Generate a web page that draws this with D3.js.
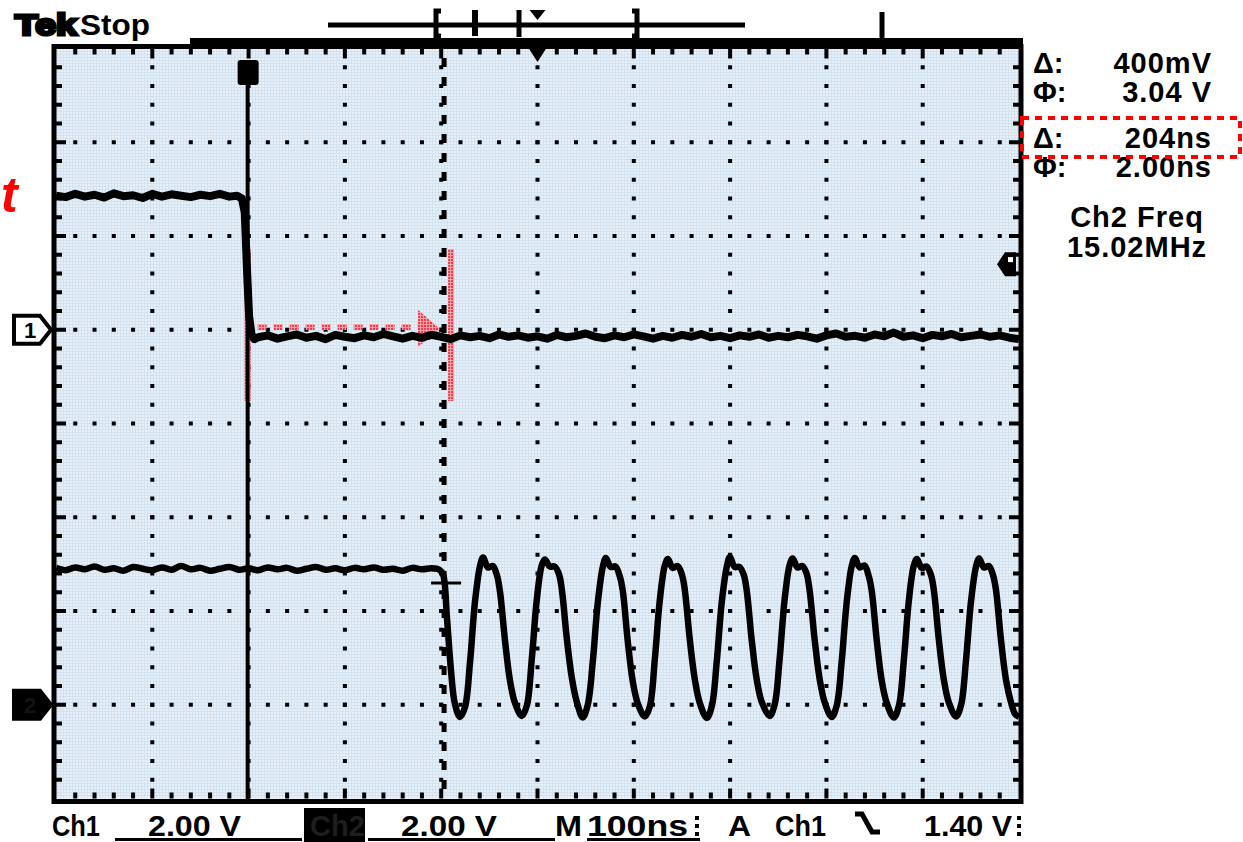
<!DOCTYPE html>
<meta charset="utf-8">
<style>
body { margin: 0; background: #fff; }
text { font-family: "Liberation Sans", Arial, sans-serif; font-weight: bold; }
</style>
<svg width="1243" height="842"></svg>
<script src="https://d3js.org/d3.v7.min.js"></script>
<script>

// ---- data (time in ns, 100 ns/div; volts, 2 V/div) ----
var timeRange = [0, 1000];
var voltsPerDiv = 2;
var ch1Offset = 1;    // divisions above centre
var ch2Offset = -3;   // divisions below centre
var cursorTimes = [199, 403];
var triggerLevel = 1.40;

var ch1Trace = [
  [0,2.86],[10,2.83],[20,2.9],[30,2.84],[40,2.88],[50,2.82],[60,2.91],[70,2.85],[80,2.87],[90,2.81],
  [100,2.9],[110,2.84],[120,2.89],[130,2.86],[140,2.83],[150,2.88],[160,2.85],[170,2.9],[180,2.84],[188,2.86],
  [193,2.8],[196,2.5],[198.5,1.2],[200.5,0.3],[203,-0.1],[206,-0.2],
  [210,-0.16],[220,-0.12],[230,-0.19],[240,-0.14],[250,-0.1],[260,-0.17],[270,-0.13],[280,-0.2],[290,-0.11],[300,-0.15],
  [310,-0.18],[320,-0.12],[330,-0.16],[340,-0.09],[350,-0.14],[360,-0.19],[370,-0.13],[380,-0.17],[390,-0.11],[400,-0.15],
  [410,-0.2],[420,-0.12],[430,-0.16],[440,-0.13],[450,-0.18],[460,-0.1],[470,-0.15],[480,-0.12],[490,-0.17],[500,-0.14],
  [510,-0.19],[520,-0.11],[530,-0.16],[540,-0.13],[550,-0.08],[560,-0.15],[570,-0.18],[580,-0.12],[590,-0.16],[600,-0.1],
  [610,-0.14],[620,-0.19],[630,-0.13],[640,-0.17],[650,-0.11],[660,-0.15],[670,-0.09],[680,-0.16],[690,-0.13],[700,-0.18],
  [710,-0.12],[720,-0.15],[730,-0.1],[740,-0.17],[750,-0.13],[760,-0.16],[770,-0.11],[780,-0.14],[790,-0.19],[800,-0.12],
  [810,-0.08],[820,-0.15],[830,-0.13],[840,-0.17],[850,-0.1],[860,-0.14],[870,-0.06],[880,-0.15],[890,-0.12],[900,-0.18],
  [910,-0.11],[920,-0.14],[930,-0.09],[940,-0.16],[950,-0.13],[960,-0.1],[970,-0.15],[980,-0.12],[990,-0.17],[1000,-0.2]
];

var ch2Trace = [
  [0,2.92],[10,2.87],[20,2.93],[30,2.89],[40,2.95],[50,2.88],[60,2.91],[70,2.86],[80,2.94],[90,2.9],
  [100,2.87],[110,2.93],[120,2.88],[130,2.96],[140,2.89],[150,2.92],[160,2.86],[170,2.9],[180,2.94],[190,2.88],
  [200,2.91],[210,2.87],[220,2.93],[230,2.89],[240,2.92],[250,2.86],[260,2.9],[270,2.94],[280,2.88],[290,2.91],
  [300,2.87],[310,2.92],[320,2.89],[330,2.93],[340,2.88],[350,2.9],[360,2.86],[370,2.92],[380,2.89],[390,2.91],
  [398,2.88],[401.9,2.78],[406,1.84],[410,0.77],[414.2,0.02],
  [419.5,-0.26],[424.7,-0.05],[429.9,0.9],[435.1,2.2],[440.3,2.96],[443.5,3.14],[448.5,2.93],[453.5,2.96],[457.9,2.76],[461,2.42],[466.2,1.38],[471.4,0.52],[476.6,0.04],
  [483.7,-0.24],[488.9,-0.02],[494.1,0.98],[499.3,2.25],[504.5,2.98],[507.7,3.1],[512.7,2.95],[517.7,2.95],[522.1,2.8],[525.2,2.47],[530.4,1.42],[535.6,0.58],[540.8,0.06],
  [547,-0.27],[552.2,0.0],[557.4,0.92],[562.6,2.18],[567.8,2.94],[571,3.13],[576,2.94],[581,2.95],[585.4,2.74],[588.5,2.44],[593.7,1.36],[598.9,0.5],[604.1,0.03],
  [611.4,-0.25],[616.6,-0.04],[621.8,0.96],[627,2.23],[632.2,2.97],[635.4,3.11],[640.4,2.92],[645.4,2.96],[649.8,2.79],[652.9,2.46],[658.1,1.4],[663.3,0.55],[668.5,0.04],
  [675.8,-0.28],[681,-0.03],[686.2,0.94],[691.4,2.2],[696.6,2.95],[699.8,3.15],[704.8,2.94],[709.8,2.94],[714.2,2.77],[717.3,2.43],[722.5,1.37],[727.7,0.53],[733,0.05],
  [741,-0.24],[746.2,0.0],[751.4,0.97],[756.6,2.24],[761.8,2.98],[765,3.12],[770,2.93],[775,2.96],[779.4,2.8],[782.5,2.45],[787.7,1.41],[792.9,0.56],[798.1,0.06],
  [805.5,-0.26],[810.7,-0.02],[815.9,0.93],[821.1,2.19],[826.3,2.96],[829.5,3.13],[834.5,2.93],[839.5,2.97],[843.9,2.75],[847,2.44],[852.2,1.39],[857.4,0.52],[862.6,0.04],
  [870,-0.27],[875.2,-0.03],[880.4,0.95],[885.6,2.22],[890.8,2.97],[894,3.11],[899,2.92],[904,2.95],[908.4,2.78],[911.5,2.46],[916.7,1.4],[921.9,0.54],[927.1,0.05],
  [934.6,-0.25],[939.8,-0.01],[945,0.96],[950.2,2.21],[955.4,2.95],[958.6,3.12],[963.6,2.93],[968.6,2.96],[973,2.77],[976.1,2.45],[981.3,1.38],[986.5,0.53],[991.7,0.05],[996,-0.2],[1000,-0.26]
];

var readoutLabels = ["\u0394:", "\u03A6:", "\u0394:", "\u03A6:"];
var readoutValues = ["400mV", "3.04 V", "204ns", "2.00ns"];
var measureLines = ["Ch2 Freq", "15.02MHz"];
var bottomTexts = [
  { t: "Ch1", x: 52, w: 48 },
  { t: "2.00 V", x: 148, w: 93 },
  { t: "2.00 V", x: 401, w: 96 },
  { t: "M", x: 555, w: 27 },
  { t: "100ns", x: 587, w: 101 },
  { t: "A", x: 728, w: 23 },
  { t: "Ch1", x: 775, w: 51 },
  { t: "1.40 V", x: 924, w: 88 }
];

var svg = d3.select("svg");

var x = d3.scaleLinear().domain(timeRange).range([56, 1019]);
var yDiv = d3.scaleLinear().domain([-4, 4]).range([798.5, 48.5]);
var xDiv = d3.scaleLinear().domain([0, 10]).range([56, 1019]);
function yCh1(v) { return yDiv(v / voltsPerDiv + ch1Offset); }
function yCh2(v) { return yDiv(v / voltsPerDiv + ch2Offset); }

// screen background with fine pixel texture
var defs = svg.append("defs");
var pat = defs.append("pattern").attr("id", "pix")
  .attr("width", 3).attr("height", 3).attr("patternUnits", "userSpaceOnUse");
pat.append("rect").attr("width", 3).attr("height", 3).attr("fill", "#e8f1f9");
pat.append("rect").attr("width", 3).attr("height", 1).attr("fill", "#d3e2ef");
pat.append("rect").attr("width", 1).attr("height", 3).attr("fill", "#d3e2ef");

var redPat = defs.append("pattern").attr("id", "redpix")
  .attr("width", 3).attr("height", 3).attr("patternUnits", "userSpaceOnUse");
redPat.append("rect").attr("width", 3).attr("height", 3).attr("fill", "#ee3d4c");
redPat.append("rect").attr("width", 3).attr("height", 1).attr("fill", "#f7a0a8");
redPat.append("rect").attr("width", 1).attr("height", 3).attr("fill", "#f7a0a8");

defs.append("clipPath").attr("id", "screen").append("rect")
  .attr("x", 56).attr("y", 48.5).attr("width", 963).attr("height", 750);

svg.append("rect").attr("x", 56).attr("y", 48.5).attr("width", 963).attr("height", 750)
  .attr("fill", "url(#pix)");

// dotted graticule
var grid = svg.append("g").attr("fill", "#000");
d3.range(1, 10).forEach(function(i) {
  d3.range(1, 40).forEach(function(j) {
    grid.append("rect").attr("x", xDiv(i) - 2).attr("y", yDiv(-4 + j * 0.2) - 2)
      .attr("width", 4).attr("height", 4);
  });
});
d3.range(-3, 4).forEach(function(i) {
  d3.range(1, 50).forEach(function(j) {
    grid.append("rect").attr("x", xDiv(j * 0.2) - 2).attr("y", yDiv(i) - 2)
      .attr("width", 4).attr("height", 4);
  });
});

// frame edge ticks
d3.range(1, 50).forEach(function(j) {
  var len = j % 5 === 0 ? 10 : 6;
  grid.append("rect").attr("x", xDiv(j * 0.2) - 2).attr("y", 48.5).attr("width", 4).attr("height", len);
  grid.append("rect").attr("x", xDiv(j * 0.2) - 2).attr("y", 798.5 - len).attr("width", 4).attr("height", len);
});
d3.range(1, 40).forEach(function(j) {
  var len = j % 5 === 0 ? 10 : 6;
  grid.append("rect").attr("x", 56).attr("y", yDiv(-4 + j * 0.2) - 2).attr("width", len).attr("height", 4);
  grid.append("rect").attr("x", 1019 - len).attr("y", yDiv(-4 + j * 0.2) - 2).attr("width", len).attr("height", 4);
});

// red annotations under the traces
var red = svg.append("g");
red.append("rect").attr("x", x(cursorTimes[0]) - 3).attr("y", 249).attr("width", 6).attr("height", 152)
  .attr("fill", "url(#redpix)");
red.append("rect").attr("x", x(cursorTimes[1]) + 4).attr("y", 249).attr("width", 6).attr("height", 152)
  .attr("fill", "url(#redpix)");
red.append("line").attr("x1", x(cursorTimes[0]) + 10).attr("x2", x(cursorTimes[1]) - 22)
  .attr("y1", 327).attr("y2", 327)
  .attr("stroke", "url(#redpix)").attr("stroke-width", 6).attr("stroke-dasharray", "9,7");
red.append("path")
  .attr("d", "M" + (x(cursorTimes[1]) - 26) + ",310 L" + (x(cursorTimes[1]) - 4) + ",329 L" + (x(cursorTimes[1]) - 26) + ",347 Z")
  .attr("fill", "url(#redpix)");

// cursors
svg.append("line").attr("x1", x(cursorTimes[0])).attr("x2", x(cursorTimes[0]))
  .attr("y1", 62).attr("y2", 799).attr("stroke", "#000").attr("stroke-width", 4);
svg.append("rect").attr("x", x(cursorTimes[0]) - 10).attr("y", 60).attr("width", 21).attr("height", 25)
  .attr("rx", 3).attr("fill", "#000");
svg.append("line").attr("x1", x(cursorTimes[1])).attr("x2", x(cursorTimes[1]))
  .attr("y1", 58).attr("y2", 799).attr("stroke", "#000").attr("stroke-width", 5)
  .attr("stroke-dasharray", "9,10");
svg.append("line").attr("x1", x(cursorTimes[1]) - 13).attr("x2", x(cursorTimes[1]) + 17)
  .attr("y1", 583).attr("y2", 583).attr("stroke", "#000").attr("stroke-width", 3);

// traces
var traces = svg.append("g").attr("clip-path", "url(#screen)").attr("fill", "none")
  .attr("stroke", "#000").attr("stroke-linejoin", "round");
traces.append("path").datum(ch1Trace)
  .attr("d", d3.line().x(function(d) { return x(d[0]); })
    .y(function(d) { return yCh1(d[1]); }))
  .attr("stroke-width", 8);
traces.append("path").datum(ch2Trace)
  .attr("d", d3.line().x(function(d) { return x(d[0]); })
    .y(function(d) { return yCh2(d[1]); }).curve(d3.curveCatmullRom.alpha(0.5)))
  .attr("stroke-width", 6.5);

// frame
svg.append("rect").attr("x", 54).attr("y", 46.5).attr("width", 967).attr("height", 755)
  .attr("fill", "none").attr("stroke", "#000").attr("stroke-width", 5);
svg.append("rect").attr("x", 190).attr("y", 38).attr("width", 833).attr("height", 10).attr("fill", "#000");

// trigger position marker (top) and level marker (right)
var tx = x(500);
svg.append("path").attr("d", "M" + (tx - 9) + ",48 L" + (tx + 9) + ",48 L" + tx + ",62 Z").attr("fill", "#000");
var ty = yCh1(triggerLevel);
svg.append("path")
  .attr("d", "M1016," + (ty - 12) + " L1005," + (ty - 12) + " L997," + ty + " L1005," + (ty + 12) + " L1016," + (ty + 12) + " Z")
  .attr("fill", "#000");
svg.append("rect").attr("x", 1008).attr("y", ty - 7).attr("width", 5).attr("height", 5).attr("fill", "#fff");

// channel ground markers
function marker(yc, filled, label) {
  svg.append("path")
    .attr("d", "M14," + (yc - 14) + " L40," + (yc - 14) + " L51," + yc + " L40," + (yc + 14) + " L14," + (yc + 14) + " Z")
    .attr("fill", filled ? "#000" : "#fff").attr("stroke", "#000").attr("stroke-width", 4);
  svg.append("text").attr("x", 30).attr("y", yc + 8).attr("text-anchor", "middle")
    .attr("font-size", 22).attr("fill", filled ? "#141414" : "#000").text(label);
}
marker(yCh1(0), false, "1");
marker(yCh2(0), true, "2");

// header
svg.append("text").attr("x", 15).attr("y", 35).attr("font-size", 30)
  .attr("stroke", "#000").attr("stroke-width", 3).attr("textLength", 62)
  .attr("lengthAdjust", "spacingAndGlyphs").text("Tek");
svg.append("text").attr("x", 80).attr("y", 35).attr("font-size", 30)
  .attr("textLength", 70).attr("lengthAdjust", "spacingAndGlyphs").text("Stop");

var hdr = svg.append("g").attr("stroke", "#000").attr("fill", "none");
hdr.append("line").attr("x1", 328).attr("x2", 745).attr("y1", 25).attr("y2", 25).attr("stroke-width", 5);
hdr.append("path").attr("d", "M441,11 L436,11 L436,36 L441,36").attr("stroke-width", 5);
hdr.append("path").attr("d", "M475,10 L475,36").attr("stroke-width", 6);
hdr.append("path").attr("d", "M519,10 L519,37").attr("stroke-width", 5);
hdr.append("path").attr("d", "M632,11 L637,11 L637,36 L632,36").attr("stroke-width", 5);
hdr.append("path").attr("d", "M882,12 L882,42").attr("stroke-width", 5);
svg.append("path").attr("d", "M" + (tx - 8) + ",10 L" + (tx + 8) + ",10 L" + tx + ",20 Z").attr("fill", "#000");

// right readouts
readoutLabels.forEach(function(l, i) {
  var by = [73, 102, 148, 177][i];
  svg.append("text").attr("x", 1033).attr("y", by).attr("font-size", 29).text(l);
  svg.append("text").attr("x", 1212).attr("y", by).attr("font-size", 29)
    .attr("text-anchor", "end").attr("letter-spacing", 1).text(readoutValues[i]);
});
measureLines.forEach(function(l, i) {
  svg.append("text").attr("x", 1137).attr("y", [227, 257][i]).attr("font-size", 29)
    .attr("text-anchor", "middle").attr("letter-spacing", 1).text(l);
});
svg.append("rect").attr("x", 1022).attr("y", 118).attr("width", 218).attr("height", 39)
  .attr("fill", "none").attr("stroke", "#f00").attr("stroke-width", 4).attr("stroke-dasharray", "7,6");

// bottom status line
svg.append("rect").attr("x", 304).attr("y", 808).attr("width", 61).attr("height", 34).attr("fill", "#000");
svg.append("text").attr("x", 310).attr("y", 836).attr("font-size", 29).attr("fill", "#1e1e1e").text("Ch2");
bottomTexts.forEach(function(b) {
  svg.append("text").attr("x", b.x).attr("y", 836).attr("font-size", 29)
    .attr("textLength", b.w).attr("lengthAdjust", "spacingAndGlyphs").text(b.t);
});
[[115, 302], [368, 555], [587, 700]].forEach(function(u) {
  svg.append("rect").attr("x", u[0]).attr("y", 838).attr("width", u[1] - u[0]).attr("height", 3).attr("fill", "#000");
});
[697, 1019].forEach(function(cx) {
  [818, 826, 834].forEach(function(cy) {
    svg.append("rect").attr("x", cx - 2).attr("y", cy - 2).attr("width", 4).attr("height", 4).attr("fill", "#000");
  });
});
svg.append("path").attr("d", "M855,814 L862,814 L872,832 L880,832")
  .attr("fill", "none").attr("stroke", "#000").attr("stroke-width", 5);

// red annotation text at left edge
svg.append("text").attr("x", 1).attr("y", 212).attr("font-size", 50)
  .attr("font-style", "italic").attr("fill", "#f00").text("t");

</script>
